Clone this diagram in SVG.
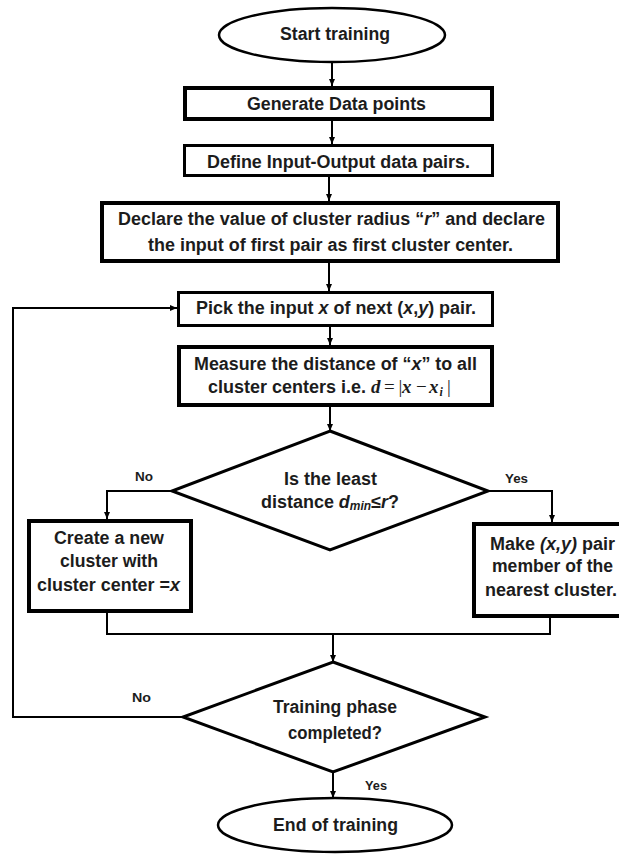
<svg xmlns="http://www.w3.org/2000/svg" width="619" height="854" viewBox="0 0 619 854">
<style>
  .box{fill:#fff;stroke:#000;stroke-width:4}
  .thin{stroke-width:3}
  .dia{fill:#fff;stroke:#000;stroke-width:3;stroke-linejoin:miter}
  .ell{fill:#fff;stroke:#000;stroke-width:2.5}
  .t{font-family:"Liberation Sans",Arial,sans-serif;font-size:18px;font-weight:bold;fill:#1c1c1c}
  .lbl{font-family:"Liberation Sans",Arial,sans-serif;font-size:12px;font-weight:bold;fill:#1c1c1c}
  .m{font-family:"Liberation Serif","Times New Roman",serif;font-size:19px;font-weight:bold;font-style:italic;fill:#1c1c1c}
  .mr{font-family:"Liberation Serif","Times New Roman",serif;font-size:19px;fill:#1c1c1c}
  .ms{font-family:"Liberation Serif","Times New Roman",serif;font-size:12px;font-weight:bold;font-style:italic;fill:#1c1c1c}
  .it{font-style:italic}
  .sub{font-size:12px;font-style:italic}
  .c{fill:none;stroke:#000;stroke-width:2}
  .ca{fill:none;stroke:#000;stroke-width:2;marker-end:url(#ah)}
</style>
<defs>
  <marker id="ah" markerUnits="userSpaceOnUse" markerWidth="8" markerHeight="8" refX="7" refY="3" orient="auto">
    <path d="M0,0 L7,3 L0,6 z" fill="#000"/>
  </marker>
</defs>

<g id="connectors">
  <path class="ca" d="M332,63 V86"/>
  <path class="ca" d="M332,121 V144"/>
  <path class="ca" d="M329,177 V201"/>
  <path class="ca" d="M329,263 V291"/>
  <path class="ca" d="M330,327 V345"/>
  <path class="ca" d="M330,407 V431"/>
  <path class="ca" d="M172,491 H107 V519"/>
  <path class="ca" d="M488,491 H552 V522"/>
  <path class="c" d="M107,613 V634 H550 V618"/>
  <path class="ca" d="M333,634 V662"/>
  <path class="ca" d="M333,772 V798"/>
  <path class="ca" d="M183,717 H13 V308 H177"/>
</g>

<g id="labels">
  <text class="lbl" x="135" y="481" textLength="18" lengthAdjust="spacingAndGlyphs">No</text>
  <text class="lbl" x="505" y="483" textLength="23" lengthAdjust="spacingAndGlyphs">Yes</text>
  <text class="lbl" x="132" y="702" textLength="19" lengthAdjust="spacingAndGlyphs">No</text>
  <text class="lbl" x="365" y="790" textLength="22" lengthAdjust="spacingAndGlyphs">Yes</text>
</g>

<g id="start">
  <ellipse class="ell" cx="332" cy="35" rx="113" ry="27"/>
  <text class="t" x="280" y="40" textLength="110" lengthAdjust="spacingAndGlyphs">Start training</text>
</g>

<g id="generate">
  <rect class="box" x="185" y="88" width="307" height="31"/>
  <text class="t" x="247" y="110" textLength="179" lengthAdjust="spacingAndGlyphs">Generate Data points</text>
</g>

<g id="define">
  <rect class="box thin" x="184.5" y="145.5" width="308" height="30"/>
  <text class="t" x="207" y="168" textLength="263" lengthAdjust="spacingAndGlyphs">Define Input-Output data pairs.</text>
</g>

<g id="declare">
  <rect class="box" x="102" y="203" width="456" height="58"/>
  <text class="t" x="118" y="225" textLength="427" lengthAdjust="spacingAndGlyphs">Declare the value of cluster radius “<tspan class="it">r</tspan>” and declare</text>
  <text class="t" x="148" y="251" textLength="365" lengthAdjust="spacingAndGlyphs">the input of first pair as first cluster center.</text>
</g>

<g id="pick">
  <rect class="box thin" x="178.5" y="292.5" width="314" height="33"/>
  <text class="t" x="196" y="314" textLength="280" lengthAdjust="spacingAndGlyphs">Pick the input <tspan class="it">x</tspan> of next (<tspan class="it">x</tspan>,<tspan class="it">y</tspan>) pair.</text>
</g>

<g id="measure">
  <rect class="box" x="179" y="347" width="313" height="58"/>
  <text class="t" x="194" y="370" textLength="283" lengthAdjust="spacingAndGlyphs">Measure the distance of “<tspan class="it">x</tspan>” to all</text>
  <text class="t" x="208" y="393" textLength="158" lengthAdjust="spacingAndGlyphs">cluster centers i.e.</text>
  <text y="393"><tspan class="m" x="371">d</tspan><tspan class="mr" x="384">=</tspan><tspan class="mr" x="398.5">|</tspan><tspan class="m" x="402">x</tspan><tspan class="mr" x="416">−</tspan><tspan class="m" x="429">x</tspan><tspan class="ms" x="439.5" dy="3">i</tspan><tspan class="mr" x="447" dy="-3">|</tspan></text>
</g>

<g id="decision1">
  <polygon class="dia" points="330,431 488,491 330,550 172,491"/>
  <text class="t" x="284" y="485" textLength="93" lengthAdjust="spacingAndGlyphs">Is the least</text>
  <text class="t" x="261" y="508" textLength="138" lengthAdjust="spacingAndGlyphs">distance <tspan class="it">d</tspan><tspan class="sub" dy="2">min</tspan><tspan dy="-2">≤</tspan><tspan class="it">r</tspan>?</text>
</g>

<g id="create">
  <rect class="box" x="29" y="521" width="162" height="90"/>
  <text class="t" x="54" y="544" textLength="110" lengthAdjust="spacingAndGlyphs">Create a new</text>
  <text class="t" x="60" y="567" textLength="98" lengthAdjust="spacingAndGlyphs">cluster with</text>
  <text class="t" x="37" y="591" textLength="143" lengthAdjust="spacingAndGlyphs">cluster center =<tspan class="it">x</tspan></text>
</g>

<g id="make">
  <rect class="box" x="474" y="524" width="148" height="92"/>
  <text class="t" x="490" y="550" textLength="125" lengthAdjust="spacingAndGlyphs">Make <tspan class="it">(x,y)</tspan> pair</text>
  <text class="t" x="492" y="572" textLength="121" lengthAdjust="spacingAndGlyphs">member of the</text>
  <text class="t" x="485" y="596" textLength="132" lengthAdjust="spacingAndGlyphs">nearest cluster.</text>
</g>

<g id="decision2">
  <polygon class="dia" points="333,662 485,717 333,772 183,717"/>
  <text class="t" x="273" y="713" textLength="124" lengthAdjust="spacingAndGlyphs">Training phase</text>
  <text class="t" x="288" y="739" textLength="94" lengthAdjust="spacingAndGlyphs">completed?</text>
</g>

<g id="end">
  <ellipse class="ell" cx="335" cy="825" rx="117" ry="27"/>
  <text class="t" x="273" y="831" textLength="125" lengthAdjust="spacingAndGlyphs">End of training</text>
</g>
</svg>
